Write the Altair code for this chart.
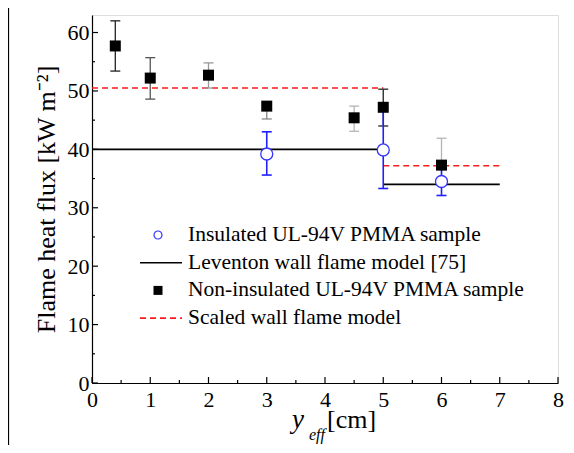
import altair as alt
import pandas as pd

# Non-insulated UL-94V PMMA sample (filled squares)
sq_x = [0.4, 1.0, 2.0, 3.0, 4.5, 5.0, 6.0]
sq_y = [57.7, 52.2, 52.7, 47.4, 45.4, 47.2, 37.3]
sq_lo = [53.4, 48.6, 50.5, 45.2, 43.1, 44.0, 34.5]
sq_hi = [62.0, 55.7, 54.8, 48.0, 47.4, 50.3, 41.9]
sq_err_col = ["#222222", "#555555", "#999999", "#888888", "#b5b5b5", "#222222", "#b5b5b5"]

# Insulated UL-94V PMMA sample (open circles)
ci_x = [3.0, 5.0, 6.0]
ci_y = [39.2, 39.9, 34.5]
ci_lo = [35.6, 33.3, 32.1]
ci_hi = [43.0, 46.9, 36.9]

# Leventon wall flame model [75] (solid step)
lev_x0 = [0.0, 5.0]
lev_x1 = [5.0, 7.0]
lev_y = [40.0, 34.0]

# Scaled wall flame model (red dashed step)
sc_x0 = [0.0, 5.0]
sc_x1 = [5.0, 7.0]
sc_y = [50.5, 37.2]

x_major = [0, 1, 2, 3, 4, 5, 6, 7, 8]
x_minor = [0.5, 1.5, 2.5, 3.5, 4.5, 5.5, 6.5, 7.5]
y_major = [0, 10, 20, 30, 40, 50, 60]
y_minor = [5, 15, 25, 35, 45, 55]

legend_labels = [
    "Insulated UL-94V PMMA sample",
    "Leventon wall flame model [75]",
    "Non-insulated UL-94V PMMA sample",
    "Scaled wall flame model",
]

FONT = "Liberation Serif"
W, H = 466, 368

sq = pd.DataFrame({"x": sq_x, "y": sq_y, "lo": sq_lo, "hi": sq_hi, "c": sq_err_col})
ci = pd.DataFrame({"x": ci_x, "y": ci_y, "lo": ci_lo, "hi": ci_hi})
lev = pd.DataFrame({"x0": lev_x0, "x1": lev_x1, "y": lev_y})
sc = pd.DataFrame({"x0": sc_x0, "x1": sc_x1, "y": sc_y})

xs = alt.Scale(domain=[0, 8], nice=False, zero=False)
ys = alt.Scale(domain=[0, 63], nice=False, zero=False)

xax = alt.Axis(values=x_major, ticks=False, grid=False, domainColor="black", domainWidth=1.2,
               labelFont=FONT, labelFontSize=22, labelColor="black", labelPadding=6,
               labelFlush=False, labelOverlap=False, title=None, format="d")
yax = alt.Axis(values=y_major, ticks=False, grid=False, domainColor="black", domainWidth=1.2,
               labelFont=FONT, labelFontSize=22, labelColor="black", labelPadding=3,
               labelFlush=False, labelOverlap=False,
               title="Flame heat flux [kW m\u207b\u00b2]", titleFont=FONT, titleFontSize=26,
               titleFontWeight="normal", titleColor="black", titlePadding=8, format="d")

X = lambda f: alt.X(f, scale=xs, axis=xax)
Y = lambda f: alt.Y(f, scale=ys, axis=yax)

base = alt.Chart(sq)

lev_line = alt.Chart(lev).mark_rule(color="black", strokeWidth=1.6).encode(
    x=X("x0:Q"), x2="x1:Q", y=Y("y:Q"))
sc_line = alt.Chart(sc).mark_rule(color="#ff1a1a", strokeWidth=1.6, strokeDash=[6, 4]).encode(
    x=X("x0:Q"), x2="x1:Q", y=Y("y:Q"))

sq_err = base.mark_rule(strokeWidth=1.3).encode(
    x=X("x:Q"), y=Y("lo:Q"), y2="hi:Q", color=alt.Color("c:N", scale=None))
sq_cap_lo = base.mark_rule(strokeWidth=1.3, xOffset=-5, x2Offset=5).encode(
    x=X("x:Q"), x2="x:Q", y=Y("lo:Q"), color=alt.Color("c:N", scale=None))
sq_cap_hi = base.mark_rule(strokeWidth=1.3, xOffset=-5, x2Offset=5).encode(
    x=X("x:Q"), x2="x:Q", y=Y("hi:Q"), color=alt.Color("c:N", scale=None))
sq_pts = base.mark_point(shape="square", filled=True, color="black", size=121, opacity=1).encode(
    x=X("x:Q"), y=Y("y:Q"))

cb = alt.Chart(ci)
ci_err = cb.mark_rule(strokeWidth=1.6, color="#1f1fff").encode(
    x=X("x:Q"), y=Y("lo:Q"), y2="hi:Q")
ci_cap_lo = cb.mark_rule(strokeWidth=1.6, color="#1f1fff", xOffset=-5, x2Offset=5).encode(
    x=X("x:Q"), x2="x:Q", y=Y("lo:Q"))
ci_cap_hi = cb.mark_rule(strokeWidth=1.6, color="#1f1fff", xOffset=-5, x2Offset=5).encode(
    x=X("x:Q"), x2="x:Q", y=Y("hi:Q"))
ci_pts = cb.mark_point(shape="circle", filled=False, fill="white", fillOpacity=1,
                       color="#3333ff", strokeWidth=1.3, size=144, opacity=1).encode(
    x=X("x:Q"), y=Y("y:Q"))

# inward ticks
xt_maj = alt.Chart(pd.DataFrame({"v": x_major})).mark_rule(color="black", strokeWidth=1.2).encode(
    x=X("v:Q"), y=alt.value(H), y2=alt.value(H - 6))
xt_min = alt.Chart(pd.DataFrame({"v": x_minor})).mark_rule(color="black", strokeWidth=1.2).encode(
    x=X("v:Q"), y=alt.value(H), y2=alt.value(H - 3))
yt_maj = alt.Chart(pd.DataFrame({"v": y_major})).mark_rule(color="black", strokeWidth=1.2).encode(
    y=Y("v:Q"), x=alt.value(0), x2=alt.value(6))
yt_min = alt.Chart(pd.DataFrame({"v": y_minor})).mark_rule(color="black", strokeWidth=1.2).encode(
    y=Y("v:Q"), x=alt.value(0), x2=alt.value(3))

# legend (positioned in pixels within the plot area)
LX, LT, LS = 96, 220, 27.7
one = pd.DataFrame({"i": [0]})
leg_texts = [
    alt.Chart(pd.DataFrame({"t": [lab]})).mark_text(
        align="left", baseline="middle", font=FONT, fontSize=21.5, color="black").encode(
        text="t:N", x=alt.value(LX), y=alt.value(LT + k * LS))
    for k, lab in enumerate(legend_labels)
]
leg_circ = alt.Chart(one).mark_point(
    shape="circle", filled=False, color="#3333ff", strokeWidth=1.2, size=64, opacity=1).encode(
    x=alt.value(66), y=alt.value(LT))
leg_line = alt.Chart(one).mark_rule(color="black", strokeWidth=1.6).encode(
    x=alt.value(48), x2=alt.value(90), y=alt.value(LT + LS))
leg_sq = alt.Chart(one).mark_point(
    shape="square", filled=True, color="black", size=81, opacity=1).encode(
    x=alt.value(66), y=alt.value(LT + 2 * LS))
leg_dash = alt.Chart(one).mark_rule(
    color="#ff1a1a", strokeWidth=1.6, strokeDash=[6, 4]).encode(
    x=alt.value(48), x2=alt.value(90), y=alt.value(LT + 3 * LS))

# x-axis title: italic y with subscript eff, then [cm]
t_y = alt.Chart(pd.DataFrame({"t": ["y"]})).mark_text(
    align="left", baseline="alphabetic", font=FONT, fontSize=27, fontStyle="italic", color="black").encode(
    text="t:N", x=alt.value(200), y=alt.value(413))
t_eff = alt.Chart(pd.DataFrame({"t": ["eff"]})).mark_text(
    align="left", baseline="alphabetic", font=FONT, fontSize=16, fontStyle="italic", color="black").encode(
    text="t:N", x=alt.value(217), y=alt.value(425))
t_cm = alt.Chart(pd.DataFrame({"t": ["[cm]"]})).mark_text(
    align="left", baseline="alphabetic", font=FONT, fontSize=26, color="black").encode(
    text="t:N", x=alt.value(235), y=alt.value(413))

# figure frame line at far left
frame = alt.Chart(one).mark_rule(color="black", strokeWidth=1.2).encode(
    x=alt.value(-83.5), y=alt.value(-15), y2=alt.value(430))

chart = alt.layer(
    lev_line, sc_line, sq_err, sq_cap_lo, sq_cap_hi, ci_err, ci_cap_lo, ci_cap_hi,
    sq_pts, ci_pts, xt_maj, xt_min, yt_maj, yt_min,
    *leg_texts, leg_circ, leg_line, leg_sq, leg_dash, t_y, t_eff, t_cm, frame,
).properties(
    width=W, height=H,
    autosize=alt.AutoSizeParams(type="none"),
    padding={"left": 84, "top": 7, "right": 8, "bottom": 62},
).configure_view(strokeWidth=0, stroke="transparent").configure(background="white")

chart.save("out.html", embed_options={"renderer": "svg", "actions": False})
